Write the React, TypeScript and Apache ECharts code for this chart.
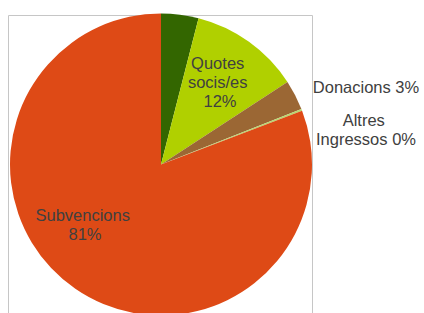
import React, { useEffect, useRef } from "react";
import * as echarts from "echarts";

const categories = ["Altres fonts", "Quotes socis/es", "Donacions", "Altres Ingressos", "Subvencions"];
const values = [4.0, 11.8, 3.2, 0.2, 80.8];
const colors = ["#336600", "#b0d000", "#9b6734", "#b8d870", "#de4a16"];
const showLabel = [false, true, true, true, true];

export default function App() {
  const ref = useRef<HTMLDivElement>(null);
  useEffect(() => {
    const chart = echarts.init(ref.current!, null, { renderer: "svg" });
    const labelPos: Record<number, { x: number; y: number }> = {
      1: { x: 220, y: 82 },
      2: { x: 366, y: 87 },
      3: { x: 366, y: 129 },
      4: { x: 85, y: 224 },
    };
    const wraps: Record<number, number> = { 1: 72, 2: 170, 3: 116, 4: 104 };
    chart.setOption({
      animation: false,
      graphic: [
        {
          type: "rect",
          shape: { x: 8.5, y: 15.5, width: 304, height: 320 },
          style: { fill: "none", stroke: "#c6c6c6", lineWidth: 1 },
          z: -1,
        },
      ],
      series: [
        {
          type: "pie",
          center: [161, 164.5],
          radius: 151,
          startAngle: 90,
          clockwise: true,
          percentPrecision: 0,
          avoidLabelOverlap: false,
          itemStyle: { borderWidth: 0 },
          labelLine: { show: false },
          emphasis: { disabled: true },
          label: {
            show: true,
            position: "outside",
            formatter: "{b} {d}%",
            color: "#404040",
            fontFamily: "Liberation Sans, Arial, sans-serif",
            fontSize: 16.5,
            lineHeight: 19,
            align: "center",
            overflow: "break",
          },
          labelLayout: (p: any) => {
            const pos = labelPos[p.dataIndex];
            if (!pos) return {};
            return { x: pos.x, y: pos.y, align: "center", verticalAlign: "middle" };
          },
          data: categories.map((name, i) => ({
            name,
            value: values[i],
            itemStyle: { color: colors[i] },
            label: { show: showLabel[i], width: wraps[i] },
          })),
        },
      ],
    });
    return () => chart.dispose();
  }, []);
  return (
    <div
      ref={ref}
      style={{ position: "fixed", left: 0, top: 0, width: 424, height: 313, background: "#fff" }}
    />
  );
}
